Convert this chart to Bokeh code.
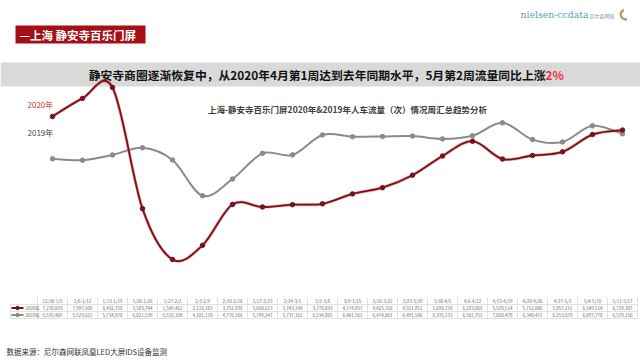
from bokeh.plotting import figure
from bokeh.models import Range1d
from bokeh.core.properties import value
from bokeh.embed import file_html
from bokeh.resources import INLINE

# ---------------- data ----------------
weeks = ["12/30-1/5", "1/6-1/12", "1/13-1/19", "1/20-1/26", "1/27-2/2", "2/3-2/9",
         "2/10-2/16", "2/17-2/23", "2/24-3/1", "3/2-3/8", "3/9-3/15", "3/16-3/22",
         "3/23-3/29", "3/30-4/5", "4/6-4/12", "4/13-4/19", "4/20-4/26", "4/27-5/3",
         "5/4-5/10", "5/11-5/17"]
y2020 = [7270693, 7997509, 8432710, 3583744, 1549462, 2116183, 3752836, 3650613,
         3743148, 3778033, 4174857, 4425316, 4921851, 5690158, 6283069, 5570514,
         5712086, 5857151, 6549514, 6729387]
y2019 = [5576465, 5523621, 5734870, 6021539, 5532108, 4101170, 4770166, 5799247,
         5737161, 6534865, 6461561, 6474861, 6491506, 6376133, 6501751, 7020478,
         6348471, 6253078, 6897778, 6579156]
series_names = ["2020年", "2019年"]
header_text = "—上海  静安寺百乐门屏"
banner_main = "静安寺商圈逐渐恢复中，从2020年4月第1周达到去年同期水平，5月第2周流量同比上涨"
banner_hi = "2%"
chart_title = "上海-静安寺百乐门屏2020年&2019年人车流量（次）情况周汇总趋势分析"
source_text = "数据来源：尼尔森网联凤凰LED大屏IDS设备监测"

# ---------------- geometry helpers (reference-pixel -> data) ----------------
FONT = "Noto Sans CJK SC"
X_FIRST_PX = 52.0      # pixel of first category
X_STEP_PX = 30.0       # pixels per category
Y_REF_PX = 87.0        # pixel of the reference value below
Y_REF_VAL = 8432710.0
PX_PER_UNIT = 2.4989e-5
OFF = 0


def dx(px):
    return (px - X_FIRST_PX) / X_STEP_PX


def dy(py):
    return Y_REF_VAL - (py - Y_REF_PX) / PX_PER_UNIT


W, H = 640, 360
p = figure(width=W, height=H,
           x_range=Range1d(dx(OFF), dx(OFF + W)),
           y_range=Range1d(dy(OFF + H), dy(OFF)),
           x_axis_type=None, y_axis_type=None, min_border=0,
           toolbar_location=None, output_backend="svg")
p.outline_line_color = None
p.background_fill_color = "white"
p.border_fill_color = "white"


def txt(x, y, t, size, color="#333333", bold=False, align="left", font=FONT, baseline="middle"):
    p.text(x=x, y=y, text=t, text_font=value(font), text_font_size=value(size),
           text_font_style="bold" if bold else "normal", text_color=color,
           text_align=align, text_baseline=baseline)


# ---------------- header ----------------
p.quad(left=[dx(15)], right=[dx(145)], top=[dy(25)], bottom=[dy(43)],
       fill_color="#a50f15", line_color=None)
txt([dx(19)], [dy(34.5)], [header_text], "11.5px", color="white", bold=True)

# logo
txt([dx(520)], [dy(14)], ["nielsen-ccdata"], "9.3px", color="#5a9fb3", font="DejaVu Serif")
txt([dx(589)], [dy(14.5)], ["尼尔森网联"], "5px", color="#999999")
p.annular_wedge(x=[dx(625)], y=[dy(14)], inner_radius=3.5, outer_radius=6,
                inner_radius_units="screen", outer_radius_units="screen",
                start_angle=1.9, end_angle=5.0, fill_color="#b89a6a", line_color=None)

# ---------------- banner ----------------
p.quad(left=[dx(0)], right=[dx(640)], top=[dy(62)], bottom=[dy(86)],
       fill_color="#d9d9d9", line_color=None)
txt([dx(545)], [dy(74)], [banner_main], "11.8px", color="#111111", bold=True, align="right")
txt([dx(545)], [dy(74)], [banner_hi], "11.8px", color="#e8323c", bold=True, align="left")

# ---------------- chart title & series labels ----------------
txt([dx(347)], [dy(108)], [chart_title], "8.5px", color="#404040", bold=True, align="center")
txt([dx(27)], [dy(104)], [series_names[0]], "8px", color="#c0392b")
txt([dx(27)], [dy(132)], [series_names[1]], "8px", color="#444444")


# ---------------- smooth lines (Catmull-Rom as Bezier) ----------------
def bez(vals):
    n = len(vals)
    xs = list(range(n))
    x0, y0, x1, y1, cx0, cy0, cx1, cy1 = [], [], [], [], [], [], [], []
    for i in range(n - 1):
        ip = max(i - 1, 0)
        inn = min(i + 2, n - 1)
        x0.append(xs[i]); y0.append(vals[i])
        x1.append(xs[i + 1]); y1.append(vals[i + 1])
        cx0.append(xs[i] + (xs[i + 1] - xs[ip]) / 6.0)
        cy0.append(vals[i] + (vals[i + 1] - vals[ip]) / 6.0)
        cx1.append(xs[i + 1] - (xs[inn] - xs[i]) / 6.0)
        cy1.append(vals[i + 1] - (vals[inn] - vals[i]) / 6.0)
    return dict(x0=x0, y0=y0, x1=x1, y1=y1, cx0=cx0, cy0=cy0, cx1=cx1, cy1=cy1)


idx = list(range(len(weeks)))
b19 = bez(y2019)
p.bezier(line_color="#8a8a8a", line_width=2, **b19)
p.scatter(x=idx, y=y2019, size=4.5, fill_color="#8a8a8a", line_color="#8a8a8a")

b20 = bez(y2020)
p.bezier(line_color="#e04848", line_width=3.2, line_alpha=0.45, **b20)
p.bezier(line_color="#76121d", line_width=1.8, **b20)
p.scatter(x=idx, y=y2020, size=4.5, fill_color="#76121d", line_color="#76121d")

# ---------------- data table ----------------
grid_c = "#d9d9d9"
n = len(weeks)
left_tab = dx(10)
right_tab = n - 0.5
for py in (304, 311, 318):
    p.segment(x0=[left_tab], y0=[dy(py)], x1=[right_tab], y1=[dy(py)],
              line_color=grid_c, line_width=0.8)
vx = [i - 0.5 for i in range(n + 1)]
p.segment(x0=vx, y0=[dy(297)] * len(vx), x1=vx, y1=[dy(318)] * len(vx),
          line_color=grid_c, line_width=0.8)
p.segment(x0=[left_tab], y0=[dy(304)], x1=[left_tab], y1=[dy(318)],
          line_color=grid_c, line_width=0.8)

txt(idx, [dy(300.5)] * n, weeks, "4.5px", color="#666666", align="center")
txt(idx, [dy(307.5)] * n, [f"{v:,}" for v in y2020], "4.5px", color="#666666", align="center")
txt(idx, [dy(314.5)] * n, [f"{v:,}" for v in y2019], "4.5px", color="#666666", align="center")

# legend keys in table
p.segment(x0=[dx(11)], y0=[dy(307.5)], x1=[dx(23)], y1=[dy(307.5)], line_color="#76121d", line_width=1.8)
p.scatter(x=[dx(17)], y=[dy(307.5)], size=3.5, fill_color="#76121d", line_color="#76121d")
p.segment(x0=[dx(11)], y0=[dy(314.5)], x1=[dx(23)], y1=[dy(314.5)], line_color="#8a8a8a", line_width=1.8)
p.scatter(x=[dx(17)], y=[dy(314.5)], size=3.5, fill_color="#8a8a8a", line_color="#8a8a8a")
txt([dx(25)], [dy(307.5)], [series_names[0]], "4.5px", color="#666666")
txt([dx(25)], [dy(314.5)], [series_names[1]], "4.5px", color="#666666")

# ---------------- source ----------------
txt([dx(6)], [dy(351)], [source_text], "7.5px", color="#333333")

open("out.html", "w").write(file_html(p, INLINE))
